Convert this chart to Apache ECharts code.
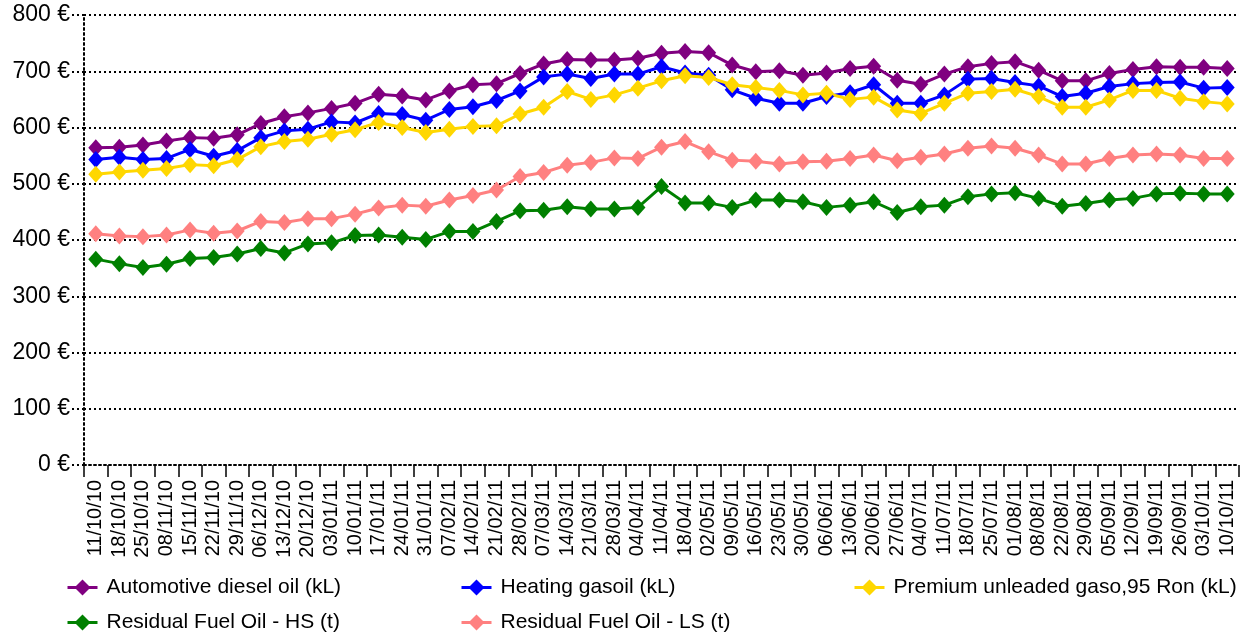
<!DOCTYPE html>
<html>
<head>
<meta charset="utf-8">
<script src="https://cdn.jsdelivr.net/npm/echarts@6/dist/echarts.min.js"></script>
<style>html,body{margin:0;padding:0;background:#fff}#c{width:1254px;height:632px}</style>
</head>
<body>
<div id="c"></div>
<script>
var categories = ['11/10/10','18/10/10','25/10/10','08/11/10','15/11/10','22/11/10','29/11/10','06/12/10','13/12/10','20/12/10','03/01/11','10/01/11','17/01/11','24/01/11','31/01/11','07/02/11','14/02/11','21/02/11','28/02/11','07/03/11','14/03/11','21/03/11','28/03/11','04/04/11','11/04/11','18/04/11','02/05/11','09/05/11','16/05/11','23/05/11','30/05/11','06/06/11','13/06/11','20/06/11','27/06/11','04/07/11','11/07/11','18/07/11','25/07/11','01/08/11','08/08/11','22/08/11','29/08/11','05/09/11','12/09/11','19/09/11','26/09/11','03/10/11','10/10/11'];

var diesel = [564,565,569,576,582,581,587,607,619,626,634,643,659,656,649,665,676,678,696,713,721,720,720,723,732,735,733,711,699,701,693,697,705,709,684,677,695,708,714,717,702,683,683,696,703,708,707,707,705];
var heating = [543,547,543,545,561,549,559,582,594,597,610,608,625,623,613,632,637,648,665,690,695,687,695,695,708,697,693,667,652,643,643,655,662,676,643,643,658,686,687,680,674,655,661,673,678,680,681,670,671];
var premium = [517,521,524,527,534,532,543,566,575,579,588,596,609,600,591,597,602,603,624,636,664,650,658,670,683,692,689,676,671,666,658,661,650,654,631,625,643,661,664,668,655,636,636,649,666,666,652,646,642];
var fuelHS = [366,358,351,357,367,369,375,385,377,393,395,408,409,405,401,415,415,433,452,453,459,455,455,458,495,466,466,458,471,471,468,458,462,468,449,459,462,477,482,484,474,460,465,471,474,482,483,482,482];
var fuelLS = [411,407,406,409,418,412,416,433,431,438,438,446,457,462,460,471,479,489,513,520,533,538,546,545,565,575,557,542,540,535,539,540,545,551,541,547,553,563,567,563,551,535,535,545,551,553,551,545,545];

var seriesNames = ['Automotive diesel oil (kL)','Heating gasoil (kL)','Premium unleaded gaso,95 Ron (kL)','Residual Fuel Oil - HS (t)','Residual Fuel Oil - LS (t)'];
var seriesColors = ['#800080','#0000ff','#ffd700','#008000','#ff8080'];
var seriesData = [diesel, heating, premium, fuelHS, fuelLS];

var FONT = 'Liberation Sans, Arial, sans-serif';
var chart = echarts.init(document.getElementById('c'), null, {renderer:'canvas'});
var series = seriesData.map(function(d, i){
  return {
    name: seriesNames[i], type: 'line', data: d,
    symbol: 'diamond', symbolSize: [15,17],
    lineStyle: {color: seriesColors[i], width: 3},
    itemStyle: {color: seriesColors[i]},
    emphasis: {disabled: true}
  };
});
var legendLefts = [66, 460, 853, 66, 460];
var legendTops = [577, 577, 577, 612, 612];
var legends = seriesNames.map(function(n, i){
  return {
    left: legendLefts[i], top: legendTops[i], padding: 0,
    orient: 'horizontal',
    itemWidth: 30, itemHeight: 20, itemGap: 0,
    lineStyle: {width: 3},
    textStyle: {fontFamily: FONT, fontSize: 21, color: '#000', padding: [0,0,0,4]},
    data: [n]
  };
});
chart.setOption({
  animation: false,
  backgroundColor: '#fff',
  grid: {left: 84, right: 15, top: 15, bottom: 167, containLabel: false},
  legend: legends,
  xAxis: {
    type: 'category', data: categories, boundaryGap: true,
    axisLine: {show: true, lineStyle: {color: '#000', width: 2, type: [2,3]}},
    axisTick: {show: true, interval: 0, length: 12, lineStyle: {color: '#000', width: 1.5}},
    axisLabel: {interval: 0, rotate: 90, margin: 15, fontFamily: FONT, fontSize: 20, color: '#000'},
    splitLine: {show: false}
  },
  yAxis: {
    type: 'value', min: 0, max: 800, interval: 100,
    axisLine: {show: true, lineStyle: {color: '#000', width: 2, type: [2,3]}},
    axisTick: {show: true, length: 12, lineStyle: {color: '#000', width: 2, type: [2,3]}},
    axisLabel: {formatter: '{value} €', margin: 14, fontFamily: FONT, fontSize: 23, color: '#000'},
    splitLine: {show: true, lineStyle: {color: '#000', width: 2, type: [2,3]}}
  },
  series: series
});
</script>
</body>
</html>
